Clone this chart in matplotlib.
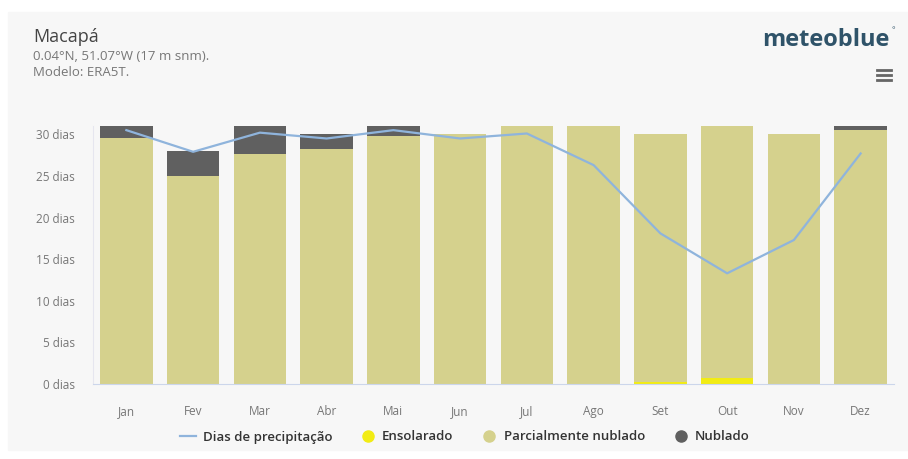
import numpy as np
import matplotlib.pyplot as plt
from matplotlib.patches import Rectangle
from matplotlib.lines import Line2D

plt.rcParams['font.family'] = ['Open Sans', 'DejaVu Sans']

# Datos (días por mes)
meses = ['Jan', 'Fev', 'Mar', 'Abr', 'Mai', 'Jun', 'Jul', 'Ago', 'Set', 'Out', 'Nov', 'Dez']
ensolarado = [0, 0, 0, 0, 0, 0, 0, 0, 0.3, 0.7, 0, 0]
parcial = [29.5, 25.0, 27.6, 28.2, 29.8, 30, 31, 31, 29.7, 30.3, 30, 30.5]
nublado = [1.5, 3.0, 3.4, 1.8, 1.2, 0, 0, 0, 0, 0, 0, 0.5]
precip = [30.5, 27.9, 30.2, 29.5, 30.5, 29.5, 30.1, 26.3, 18.1, 13.3, 17.3, 27.7]
yticks = [0, 5, 10, 15, 20, 25, 30]

c_sol = '#f2ec14'
c_parcial = '#d5d18d'
c_nub = '#606060'
c_linea = '#8fb4dc'

W, H = 908, 459
fig = plt.figure(figsize=(W / 100, H / 100), dpi=100, facecolor='white')
fig.patches.append(Rectangle((8 / W, 1 - 450 / H), 1 - 8 / W, 438 / H,
                             transform=fig.transFigure, color='#f7f7f7', zorder=-10))

ax = fig.add_axes([93 / W, 1 - 384 / H, (894 - 93) / W, (384 - 126) / H])
ax.set_facecolor('#f7f7f7')
x = np.arange(len(meses))
ensol = np.array(ensolarado)
parc = np.array(parcial)
nub = np.array(nublado)
ax.bar(x, ensol, width=0.79, color=c_sol, zorder=2)
ax.bar(x, parc, width=0.79, bottom=ensol, color=c_parcial, zorder=2)
ax.bar(x, nub, width=0.79, bottom=ensol + parc, color=c_nub, zorder=2)
ax.plot(x, precip, color=c_linea, lw=1.6, zorder=3)

ax.set_xlim(-0.5, len(meses) - 0.5)
ax.set_ylim(0, 31)
ax.set_xticks(x)
ax.set_xticklabels(meses)
ax.set_yticks(yticks)
ax.set_yticklabels([f'{v} dias' for v in yticks])
ax.tick_params(axis='both', length=0, labelsize=8.5, labelcolor='#777777')
ax.tick_params(axis='x', pad=15)
ax.tick_params(axis='y', pad=13)
for s in ['top', 'right']:
    ax.spines[s].set_visible(False)
ax.spines['left'].set_color('#e6e6ef')
ax.spines['bottom'].set_color('#ccd6eb')

# Cabecera
fig.text(33 / W, 1 - 37 / H, 'Macapá', fontsize=13, color='#444444', va='center')
fig.text(33 / W, 1 - 57 / H, '0.04°N, 51.07°W (17 m snm).', fontsize=9.5,
         color='#777777', va='center')
fig.text(33 / W, 1 - 72 / H, 'Modelo: ERA5T.', fontsize=9.5, color='#777777', va='center')
fig.text(889 / W, 1 - 40 / H, 'meteoblue', fontsize=17, fontweight='bold',
         color='#2f5369', ha='right', va='center')
fig.text(893 / W, 1 - 31 / H, '°', fontsize=6, color='#2f5369', ha='center', va='center')
for yy in [70, 75, 80]:
    fig.add_artist(Line2D([877 / W, 891 / W], [1 - yy / H, 1 - yy / H],
                          color='#666666', lw=2, transform=fig.transFigure))

# Leyenda
handles = [
    Line2D([], [], color=c_linea, lw=1.6),
    Line2D([], [], marker='o', ls='', color=c_sol, markersize=8),
    Line2D([], [], marker='o', ls='', color=c_parcial, markersize=8),
    Line2D([], [], marker='o', ls='', color=c_nub, markersize=8),
]
leg = fig.legend(handles, ['Dias de precipitação', 'Ensolarado', 'Parcialmente nublado', 'Nublado'],
                 loc='center', bbox_to_anchor=(465 / W, 1 - 437 / H), ncol=4, frameon=False,
                 fontsize=9.5, handlelength=1.2, handletextpad=0.5, columnspacing=2.1)
for t in leg.get_texts():
    t.set_color('#333333')
    t.set_fontweight('semibold')

fig.savefig('out.png', dpi=100, facecolor='white')
